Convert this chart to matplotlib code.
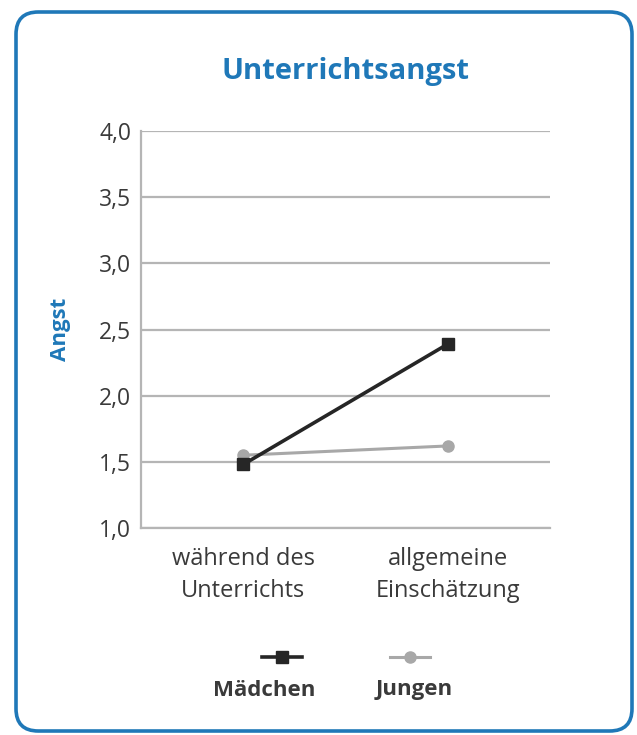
import matplotlib
matplotlib.use("Agg")
import matplotlib.pyplot as plt
from matplotlib.patches import FancyBboxPatch
from matplotlib.lines import Line2D

categories = ["während des\nUnterrichts", "allgemeine\nEinschätzung"]
maedchen = [1.48, 2.39]
jungen = [1.55, 1.62]
yticks = [1.0, 1.5, 2.0, 2.5, 3.0, 3.5, 4.0]
ytick_labels = ["1,0", "1,5", "2,0", "2,5", "3,0", "3,5", "4,0"]
series_names = ["Mädchen", "Jungen"]

BLUE = "#1f78b8"
DARK = "#262626"
LIGHT = "#a8a8a8"
GRID = "#b5b5b5"
TEXT = "#3a3a3a"

plt.rcParams["font.family"] = ["Open Sans", "DejaVu Sans"]

W, H = 637, 735
fig = plt.figure(figsize=(W / 100, H / 100), dpi=100)

# rounded frame around the whole chart
frame = FancyBboxPatch((16 / W, 4 / H), (632 - 16) / W, (727 - 8) / H,
                       boxstyle="round,pad=0,rounding_size=0.035",
                       transform=fig.transFigure, fill=False,
                       edgecolor=BLUE, linewidth=2.6, mutation_aspect=W / H)
fig.add_artist(frame)

ax = fig.add_axes([141 / W, 1 - 528 / H, (550 - 141) / W, (528 - 131) / H])
x = list(range(len(categories)))
ax.plot(x, jungen, color=LIGHT, lw=2.2, marker="o", ms=8, zorder=3)
ax.plot(x, maedchen, color=DARK, lw=2.6, marker="s", ms=8, zorder=4)

ax.set_xlim(-0.5, 1.5)
ax.set_ylim(1.0, 4.0)
ax.set_yticks(yticks)
ax.set_yticklabels(ytick_labels, fontsize=16.5)
ax.set_xticks(x)
ax.set_xticklabels(categories, linespacing=1.4, fontsize=17)
ax.tick_params(axis="both", length=0, labelcolor=TEXT)
ax.tick_params(axis="y", pad=7)
ax.tick_params(axis="x", pad=14)
ax.grid(axis="y", color=GRID, lw=1.6)
ax.set_axisbelow(True)
for side in ["top", "right"]:
    ax.spines[side].set_visible(False)
for side in ["left", "bottom"]:
    ax.spines[side].set_color(GRID)
    ax.spines[side].set_linewidth(1.6)

ax.set_ylabel("Angst", color=BLUE, fontsize=16, fontweight="bold", labelpad=20)
fig.text(345 / W, 1 - 72 / H, "Unterrichtsangst", color=BLUE, fontsize=21,
         fontweight="bold", ha="center", va="center")

# legend: sample line above each bold label
legend_items = [(282, 264, DARK, "s", 2.6, series_names[0]),
                (410, 414, LIGHT, "o", 2.2, series_names[1])]
for hx, tx, col, mk, lw, name in legend_items:
    fig.add_artist(Line2D([(hx - 20) / W, (hx + 20) / W], [1 - 657 / H] * 2,
                          transform=fig.transFigure, color=col, lw=lw))
    fig.add_artist(Line2D([hx / W], [1 - 657 / H], transform=fig.transFigure,
                          color=col, marker=mk, ms=8, lw=0))
    fig.text(tx / W, 1 - 690 / H, name, color=TEXT, fontsize=16,
             fontweight="bold", ha="center", va="center")

fig.savefig("out.png", dpi=100)
